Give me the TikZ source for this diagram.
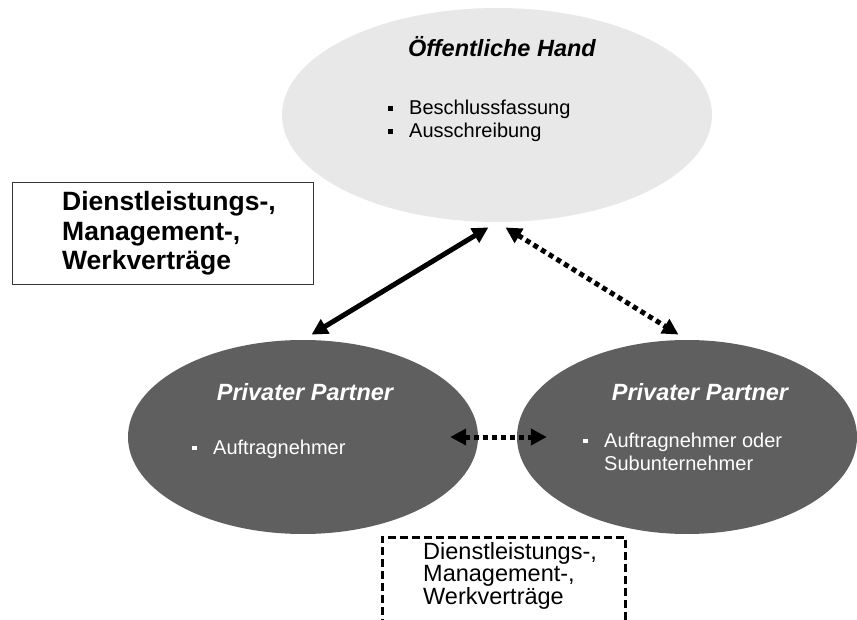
\documentclass[tikz,border=0pt]{standalone}
\usepackage{fontspec}
\setmainfont{Liberation Sans}
\usetikzlibrary{shapes.geometric,arrows.meta,positioning}
\definecolor{hellgrau}{HTML}{E8E8E8}
\definecolor{dunkelgrau}{HTML}{5F5F5F}
\newcommand{\blt}{\makebox[21pt][l]{\rule[4pt]{4.5pt}{4.5pt}}}
\begin{document}
\begin{tikzpicture}[x=1pt,y=-1pt,
    oval/.style={ellipse,inner sep=0pt,draw=none},
    titel/.style={font=\fontsize{23.5}{27}\selectfont\bfseries\itshape,anchor=base,inner sep=0pt},
    liste/.style={font=\fontsize{20}{23}\selectfont,align=left,anchor=base west,inner sep=0pt},
    pfeil/.style={line width=5pt,{Triangle[length=16pt,width=16pt]}-{Triangle[length=16pt,width=16pt]}},
    punkte/.style={pfeil,dash pattern=on 5pt off 4pt}]
	\clip (0,0) rectangle (857,620);
	\fill[white] (0,0) rectangle (857,620);
	% die drei Partner
	\node[oval,fill=hellgrau,minimum width=430pt,minimum height=214pt] (OH) at (497,115) {};
	\node[oval,fill=dunkelgrau,minimum width=350pt,minimum height=194pt] (PP1) at (303,437) {};
	\node[oval,fill=dunkelgrau,minimum width=340pt,minimum height=194pt] (PP2) at (687,437) {};
	\node[titel] (T0) at (502,57) {Öffentliche Hand};
	\node[liste] (L0) at (388,138) {\blt Beschlussfassung\\\blt Ausschreibung};
	\node[titel,text=white] (T1) at (305,400) {Privater Partner};
	\node[liste,text=white] (L1) at (192,454) {\blt Auftragnehmer};
	\node[titel,text=white] (T2) at (700,400) {Privater Partner};
	\node[liste,text=white] (L2) at (583,470) {\blt Auftragnehmer oder\\\hspace*{21pt}Subunternehmer};
	% Vertragsbeziehungen
	\draw[pfeil,shorten <=10pt,shorten >=10pt] (OH.south) -- (PP1.north);
	\draw[punkte,shorten <=10pt,shorten >=10pt] (OH.south) -- (PP2.north);
	\draw[punkte,shorten <=-28pt,shorten >=-30pt] (PP1.east) -- (PP2.west);
	% Kaesten
	\node[draw=black!80,line width=1pt,minimum width=301pt,minimum height=102pt,inner sep=0pt] (V1) at (162.5,234) {};
	\node[font=\fontsize{26.5}{29.5}\selectfont\bfseries,align=left,anchor=base west,inner sep=0pt] (VT1) at (62,270) {Dienstleistungs-,\\Management-,\\Werkverträge};
	\node[draw,line width=3pt,dash pattern=on 8pt off 4pt,minimum width=243pt,minimum height=140pt,inner sep=0pt] (V2) at (503.5,607) {};
	\node[font=\fontsize{23.5}{21}\selectfont,align=left,anchor=base west,inner sep=0pt] (VT2) at (423,604) {Dienstleistungs-,\\Management-,\\Werkverträge};
\end{tikzpicture}
\end{document}
